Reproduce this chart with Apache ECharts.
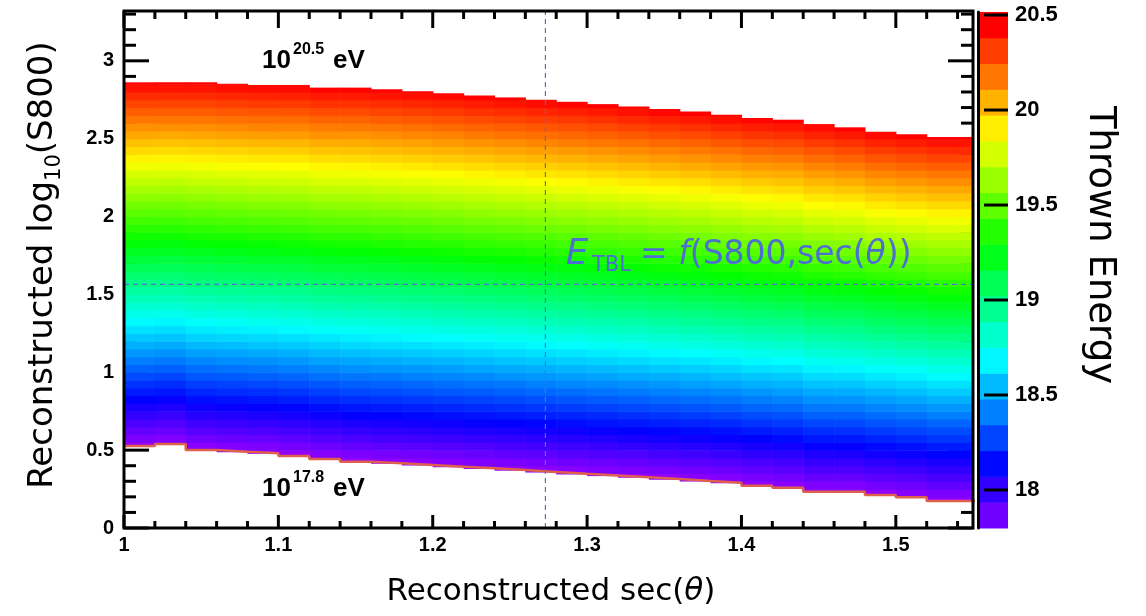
<!DOCTYPE html>
<html><head><meta charset="utf-8">
<script src="https://cdn.jsdelivr.net/npm/echarts@6/dist/echarts.min.js"></script>
<style>html,body{margin:0;padding:0;background:#fff}#c{width:1146px;height:616px}</style>
</head><body><div id="c"></div>
<script>
// ---- data ----
const binLow = [1.00,1.02,1.04,1.06,1.08,1.10,1.12,1.14,1.16,1.18,1.20,1.22,1.24,1.26,1.28,1.30,1.32,1.34,1.36,1.38,1.40,1.42,1.44,1.46,1.48,1.50,1.52,1.54];
const binWidth = 0.02;
// upper edge (E = 10^20.5 eV) per sec(theta) bin, in log10(S800)
const yHigh = [2.862,2.862,2.862,2.853,2.845,2.845,2.828,2.828,2.817,2.805,2.792,2.778,2.765,2.750,2.737,2.722,2.707,2.690,2.675,2.654,2.633,2.622,2.594,2.573,2.545,2.528,2.511,2.511];
// lower edge (E = 10^17.8 eV) per bin
const yLow  = [0.527,0.540,0.501,0.490,0.480,0.463,0.443,0.426,0.416,0.405,0.394,0.383,0.372,0.360,0.348,0.337,0.326,0.314,0.302,0.291,0.272,0.259,0.233,0.233,0.212,0.197,0.174,0.174];
const eLow = 17.8, eHigh = 20.5;      // energies at the lower and upper edges
const yCell = 0.05;                   // log10(S800) bin size
const zMin = 17.8, zMax = 20.516;     // colour scale range
const nContours = 20;
const zTicks = [18, 18.5, 19, 19.5, 20, 20.5];
const zTickLabels = ['18', '18.5', '19', '19.5', '20', '20.5'];
const xMajorTicks = [1.0, 1.1, 1.2, 1.3, 1.4, 1.5];
const xMinorTicks = [1.02,1.04,1.06,1.08,1.12,1.14,1.16,1.18,1.22,1.24,1.26,1.28,1.32,1.34,1.36,1.38,1.42,1.44,1.46,1.48,1.52,1.54];
const yMajorTicks = [0, 0.5, 1, 1.5, 2, 2.5, 3];
const yMinorTicks = [0.1,0.2,0.3,0.4,0.6,0.7,0.8,0.9,1.1,1.2,1.3,1.4,1.6,1.7,1.8,1.9,2.1,2.2,2.3,2.4,2.6,2.7,2.8,2.9,3.1,3.2,3.3];
const markSec = 1.273;                // dashed vertical
const markLogS = 1.565;               // dashed horizontal
const xRange = [1, 1.55], yRange = [0, 3.32];

// ---- colours ----
function hsl(h){
  const f = n => { const k = (n + h/30) % 12; return 0.5 - 0.5*Math.max(-1, Math.min(k-3, 9-k, 1)); };
  return 'rgb(' + Math.round(f(0)*255) + ',' + Math.round(f(8)*255) + ',' + Math.round(f(4)*255) + ')';
}
const maxHue = 275;
function colorOfE(e){
  let t = (eHigh - e)/(eHigh - eLow); t = Math.max(0, Math.min(1, t));
  return hsl(maxHue*t);
}
const bandColors = []; for (let k=0;k<nContours;k++) bandColors.push(hsl(266 - k*14));

// ---- build cells ----
const cells = [];
binLow.forEach((x0,i)=>{
  const x1 = x0 + binWidth, yb = yLow[i], yt = yHigh[i];
  for (let j = Math.floor(yb/yCell); j*yCell < yt - 1e-9; j++){
    const c0 = Math.max(j*yCell, yb), c1 = Math.min((j+1)*yCell, yt);
    const yc = (j+0.5)*yCell;
    const e = eLow + (yc - yb)/(yt - yb)*(eHigh - eLow);
    cells.push([x0, x1, c0, c1, e]);
  }
});
const lowLine = binLow.map((x,i)=>[x, yLow[i]]).concat([[binLow[binLow.length-1]+binWidth, yLow[yLow.length-1]]]);
const dz = (zMax - zMin)/nContours;
const bands = []; for (let k=0;k<nContours;k++) bands.push([k, zMin + k*dz, zMin + (k+1)*dz]);
const zTickData = zTicks.map((z,i)=>[z, i]);
// ticks: [value, kind]  kind 0 x-major, 1 x-minor, 2 y-major, 3 y-minor
const tickData = [].concat(xMajorTicks.map(v=>[v,0]), xMinorTicks.map(v=>[v,1]), yMajorTicks.map(v=>[v,2]), yMinorTicks.map(v=>[v,3]));

const tickFont = {fontFamily:'Liberation Sans', fontWeight:'bold', fontSize:20, color:'#000'};
const black = {color:'#000', width:3};
const xFmt = v => Math.abs(v*10 - Math.round(v*10)) < 1e-6 ? String(+v.toFixed(1)) : '';
const yFmt = v => Math.abs(v*2 - Math.round(v*2)) < 1e-6 ? String(+v.toFixed(1)) : '';
const tickLen = {xBottom:[13,7], xTop:[17,8], yLeft:[25,12], yRight:[25,12]};

const chart = echarts.init(document.getElementById('c'));
chart.setOption({
  animation:false,
  backgroundColor:'#fff',
  grid:[{left:124, top:11, width:849, height:517},
        {left:978, top:12, width:30, height:516}],
  xAxis:[{type:'value', gridIndex:0, position:'bottom', min:xRange[0], max:xRange[1], interval:0.1,
          axisLine:{show:false}, splitLine:{show:false}, axisTick:{show:false},
          axisLabel:Object.assign({show:true, margin:7, formatter:xFmt}, tickFont)},
         {type:'value', gridIndex:1, min:0, max:1, show:false}],
  yAxis:[{type:'value', gridIndex:0, position:'left', min:yRange[0], max:yRange[1], interval:0.5,
          axisLine:{show:false}, splitLine:{show:false}, axisTick:{show:false},
          axisLabel:Object.assign({show:true, margin:10, formatter:yFmt}, tickFont)},
         {type:'value', gridIndex:1, position:'right', min:zMin, max:zMax, z:5,
          axisLine:{show:true, lineStyle:black}, splitLine:{show:false},
          axisTick:{show:false}, axisLabel:{show:false}}],
  series:[
    {type:'custom', xAxisIndex:0, yAxisIndex:0, data:tickData, z:1, encode:{x:0},
     renderItem:(params, api)=>{
       const v = api.value(0), kind = api.value(1), major = (kind % 2 === 0) ? 0 : 1;
       const ls = {stroke:'#000', lineWidth:3};
       if (kind < 2){
         const b = api.coord([v, yRange[0]]), t = api.coord([v, yRange[1]]);
         return {type:'group', children:[
           {type:'line', shape:{x1:b[0], y1:b[1], x2:b[0], y2:b[1]-tickLen.xBottom[major]}, style:ls},
           {type:'line', shape:{x1:t[0], y1:t[1], x2:t[0], y2:t[1]+tickLen.xTop[major]}, style:ls}]};
       }
       const l = api.coord([xRange[0], v]), r = api.coord([xRange[1], v]);
       return {type:'group', children:[
         {type:'line', shape:{x1:l[0], y1:l[1], x2:l[0]+tickLen.yLeft[major], y2:l[1]}, style:ls},
         {type:'line', shape:{x1:r[0], y1:r[1], x2:r[0]-tickLen.yRight[major], y2:r[1]}, style:ls}]};
     }},
    {type:'custom', xAxisIndex:0, yAxisIndex:0, clip:true, data:cells, encode:{x:[0,1], y:[2,3]}, z:2,
     renderItem:(params, api)=>{
       const p0 = api.coord([api.value(0), api.value(3)]);
       const p1 = api.coord([api.value(1), api.value(2)]);
       return {type:'rect', shape:{x:p0[0], y:p0[1], width:p1[0]-p0[0]+0.6, height:p1[1]-p0[1]+0.6},
               style:{fill:colorOfE(api.value(4))}};
     }},
    {type:'line', xAxisIndex:0, yAxisIndex:0, step:'end', data:lowLine, symbol:'none', z:3,
     lineStyle:{color:'#E0604E', width:2.5}},
    {type:'line', xAxisIndex:0, yAxisIndex:0, data:[[markSec, yRange[0]],[markSec, yRange[1]]], symbol:'none', z:3,
     lineStyle:{color:'#4A72CF', width:1.2, type:[5,4]}},
    {type:'line', xAxisIndex:0, yAxisIndex:0, data:[[xRange[0], markLogS],[xRange[1], markLogS]], symbol:'none', z:3,
     lineStyle:{color:'#4A72CF', width:1.2, type:[5,4]}},
    {type:'custom', xAxisIndex:1, yAxisIndex:1, data:bands, encode:{y:[1,2]},
     renderItem:(params, api)=>{
       const p0 = api.coord([0, api.value(2)]);
       const p1 = api.coord([1, api.value(1)]);
       return {type:'rect', shape:{x:p0[0], y:p0[1], width:p1[0]-p0[0], height:p1[1]-p0[1]+0.5},
               style:{fill:bandColors[api.value(0)]}};
     }},
    {type:'custom', xAxisIndex:1, yAxisIndex:1, data:zTickData, encode:{y:0}, z:10,
     renderItem:(params, api)=>{
       const p = api.coord([1, api.value(0)]);
       return {type:'group', children:[
         {type:'line', shape:{x1:p[0]-24, y1:p[1], x2:p[0], y2:p[1]}, style:{stroke:'#000', lineWidth:3}},
         {type:'text', x:p[0]+7, y:p[1], style:{text:zTickLabels[api.value(1)], verticalAlign:'middle', align:'left',
           fontFamily:'Liberation Sans', fontWeight:'bold', fontSize:22, fill:'#000'}}
       ]};
     }}
  ],
  graphic:[
    {type:'rect', z:100, shape:{x:124, y:11, width:849, height:517}, style:{fill:'none', stroke:'#000', lineWidth:3}},
    {type:'text', z:100, x:551, y:592, style:{text:'{n|Reconstructed sec(}{i|θ}{n|)}', align:'center', verticalAlign:'middle',
      rich:{n:{fontFamily:'DejaVu Sans', fontSize:31, fill:'#000'}, i:{fontFamily:'DejaVu Sans', fontStyle:'italic', fontSize:31, fill:'#000'}}}},
    {type:'text', z:100, x:43, y:265, rotation:Math.PI/2, style:{text:'{n|Reconstructed log}{s|10}{n|(S800)}', align:'center', verticalAlign:'middle',
      rich:{n:{fontFamily:'DejaVu Sans', fontSize:34, lineHeight:44, fill:'#000'}, s:{fontFamily:'DejaVu Sans', fontSize:21, lineHeight:22, verticalAlign:'bottom', fill:'#000'}}}},
    {type:'text', z:100, x:1100, y:245, rotation:-Math.PI/2, style:{text:'Thrown Energy', align:'center', verticalAlign:'middle',
      fontFamily:'DejaVu Sans', fontSize:37, fill:'#000'}},
    {type:'text', z:100, x:262, y:61, style:{text:'10', verticalAlign:'middle', fontFamily:'Liberation Sans', fontWeight:'bold', fontSize:26, fill:'#000'}},
    {type:'text', z:100, x:293, y:50, style:{text:'20.5', verticalAlign:'middle', fontFamily:'Liberation Sans', fontWeight:'bold', fontSize:16, fill:'#000'}},
    {type:'text', z:100, x:333, y:61, style:{text:'eV', verticalAlign:'middle', fontFamily:'Liberation Sans', fontWeight:'bold', fontSize:26, fill:'#000'}},
    {type:'text', z:100, x:262, y:489, style:{text:'10', verticalAlign:'middle', fontFamily:'Liberation Sans', fontWeight:'bold', fontSize:26, fill:'#000'}},
    {type:'text', z:100, x:293, y:478, style:{text:'17.8', verticalAlign:'middle', fontFamily:'Liberation Sans', fontWeight:'bold', fontSize:16, fill:'#000'}},
    {type:'text', z:100, x:333, y:489, style:{text:'eV', verticalAlign:'middle', fontFamily:'Liberation Sans', fontWeight:'bold', fontSize:26, fill:'#000'}},
    {type:'text', z:100, x:566, y:255, style:{text:'E', verticalAlign:'middle', fontFamily:'DejaVu Sans', fontStyle:'italic', fontSize:35, fill:'#4D6FD0'}},
    {type:'text', z:100, x:592, y:266, style:{text:'TBL', verticalAlign:'middle', fontFamily:'DejaVu Sans', fontSize:21, fill:'#4D6FD0'}},
    {type:'text', z:100, x:640, y:255, style:{text:'{n|= }{i|f}{n|(S800,sec(}{i|θ}{n|))}', verticalAlign:'middle',
      rich:{n:{fontFamily:'DejaVu Sans', fontSize:33, fill:'#4D6FD0'}, i:{fontFamily:'DejaVu Sans', fontStyle:'italic', fontSize:33, fill:'#4D6FD0'}}}}
  ]
});
</script></body></html>
